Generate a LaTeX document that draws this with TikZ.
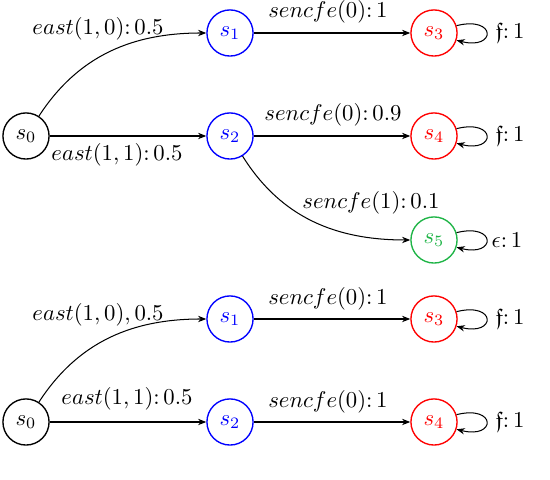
\documentclass[tikz,border=0pt]{standalone}
\usepackage{amssymb}
\usetikzlibrary{arrows.meta}
\definecolor{sgreen}{RGB}{30,180,70}
\begin{document}
\begin{tikzpicture}[x=0.44pt,y=0.44pt,
  st/.style={circle,draw,semithick,minimum size=20.3pt,inner sep=0pt},
  edge/.style={-{Stealth[length=3.6pt,width=2.8pt]},line width=0.45pt},
  lbl/.style={inner sep=0pt}]
\useasboundingbox (0,0) rectangle (550,480);
% top diagram
\node[st] (a0) at (26,344) {$s_0$};
\node[st,draw=blue,text=blue] (a1) at (230,447) {$s_1$};
\node[st,draw=blue,text=blue] (a2) at (230,344) {$s_2$};
\node[st,draw=red,text=red] (a3) at (434,447) {$s_3$};
\node[st,draw=red,text=red] (a4) at (434,344) {$s_4$};
\node[st,draw=sgreen,text=sgreen] (a5) at (434,240) {$s_5$};
\draw[edge] (a0) to[out=57,in=180] (a1);
\draw[edge] (a0) -- (a2);
\draw[edge] (a1) -- (a3);
\draw[edge] (a2) -- (a4);
\draw[edge] (a2) to[out=-58,in=180] (a5);
\draw[edge] (a3.18) .. controls +(40,10) and +(40,-10) .. (a3.-18);
\draw[edge] (a4.18) .. controls +(40,10) and +(40,-10) .. (a4.-18);
\draw[edge] (a5.18) .. controls +(40,10) and +(40,-10) .. (a5.-18);
\node[lbl] (la01) at (98,451) {$east(1,0)\colon 0.5$};
\node[lbl] (la02) at (117,325) {$east(1,1)\colon 0.5$};
\node[lbl] (la13) at (328,468) {$sencfe(0)\colon 1$};
\node[lbl] (la24) at (333,365) {$sencfe(0)\colon 0.9$};
\node[lbl] (la25) at (371,277) {$sencfe(1)\colon 0.1$};
\node[lbl] (la33) at (510,447) {$\mathfrak{f}\colon 1$};
\node[lbl] (la44) at (510,344) {$\mathfrak{f}\colon 1$};
\node[lbl] (la55) at (507,240) {$\epsilon\colon 1$};
% bottom diagram
\node[st] (b0) at (26,58) {$s_0$};
\node[st,draw=blue,text=blue] (b1) at (230,161) {$s_1$};
\node[st,draw=blue,text=blue] (b2) at (230,58) {$s_2$};
\node[st,draw=red,text=red] (b3) at (434,161) {$s_3$};
\node[st,draw=red,text=red] (b4) at (434,58) {$s_4$};
\draw[edge] (b0) to[out=57,in=180] (b1);
\draw[edge] (b0) -- (b2);
\draw[edge] (b1) -- (b3);
\draw[edge] (b2) -- (b4);
\draw[edge] (b3.18) .. controls +(40,10) and +(40,-10) .. (b3.-18);
\draw[edge] (b4.18) .. controls +(40,10) and +(40,-10) .. (b4.-18);
\node[lbl] (lb01) at (98,165) {$east(1,0), 0.5$};
\node[lbl] (lb02) at (127,81) {$east(1,1)\colon 0.5$};
\node[lbl] (lb13) at (328,181) {$sencfe(0)\colon 1$};
\node[lbl] (lb24) at (328,78) {$sencfe(0)\colon 1$};
\node[lbl] (lb33) at (510,161) {$\mathfrak{f}\colon 1$};
\node[lbl] (lb44) at (510,58) {$\mathfrak{f}\colon 1$};
\end{tikzpicture}
\end{document}
